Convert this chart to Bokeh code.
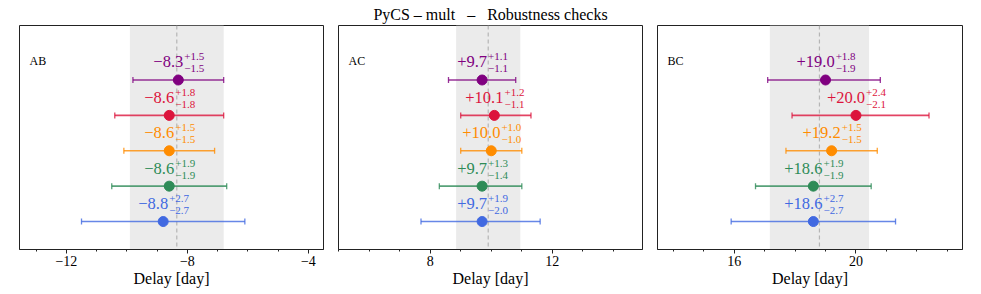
from bokeh.plotting import figure
from bokeh.layouts import row
from bokeh.models import (ColumnDataSource, Whisker, TeeHead, BoxAnnotation, Span,
                          Label, FixedTicker, Range1d)
from bokeh.core.properties import value
from bokeh.embed import file_html
from bokeh.resources import INLINE

# ---------------- data ----------------
pairs = ["AB", "AC", "BC"]
colors = ["#800080", "#DC143C", "#FF8C00", "#2E8B57", "#4169E1"]
rows_y = [4, 3, 2, 1, 0]

AB_val = [-8.3, -8.6, -8.6, -8.6, -8.8]
AB_up = [1.5, 1.8, 1.5, 1.9, 2.7]
AB_lo = [1.5, 1.8, 1.5, 1.9, 2.7]

AC_val = [9.7, 10.1, 10.0, 9.7, 9.7]
AC_up = [1.1, 1.2, 1.0, 1.3, 1.9]
AC_lo = [1.1, 1.1, 1.0, 1.4, 2.0]

BC_val = [19.0, 20.0, 19.2, 18.6, 18.6]
BC_up = [1.8, 2.4, 1.5, 1.9, 2.7]
BC_lo = [1.9, 2.1, 1.5, 1.9, 2.7]

band_center = [-8.35, 9.9, 18.8]
band_half = [1.55, 1.05, 1.63]

x_ranges = [(-13.55, -3.5), (5.0, 14.95), (13.48, 23.5)]
y_range = (-0.79, 5.54)

tick_values = [[-12, -8, -4], [8, 12], [16, 20]]
tick_labels = [["\u221212", "\u22128", "\u22124"], ["8", "12"], ["16", "20"]]
minor_values = [[-13, -11, -10, -9, -7, -6, -5],
                [5, 6, 7, 9, 10, 11, 13, 14],
                [14, 15, 17, 18, 19, 21, 22, 23]]

title_text = "PyCS \u2013 mult \u00a0 \u2013 \u00a0 Robustness checks"

FONT = "Liberation Serif"
MAIN_SIZE = 16.5
SCRIPT_SIZE = 11.0

# Times-like advance widths (em)
_W = {".": 0.25, "+": 0.564, "\u2212": 0.564}


def text_w(s, size):
    return sum(_W.get(ch, 0.5) for ch in s) * size


panel_data = [(AB_val, AB_up, AB_lo), (AC_val, AC_up, AC_lo), (BC_val, BC_up, BC_lo)]
borders = [(19, 7), (8, 7), (8, 10)]
frame_widths = [304, 304, 305]

figs = []
for k in range(3):
    vals, ups, los = panel_data[k]
    p = figure(frame_width=frame_widths[k], frame_height=224,
               x_range=Range1d(*x_ranges[k]), y_range=Range1d(*y_range),
               output_backend="svg", toolbar_location=None,
               min_border_left=borders[k][0], min_border_right=borders[k][1],
               min_border_top=0, min_border_bottom=0,
               title=title_text if k == 1 else "\u00a0")
    p.title.text_font = FONT
    p.title.text_font_size = "16px"
    p.title.text_font_style = "normal"
    p.title.align = "center"
    p.title.standoff = 6
    p.title.offset = 0
    p.title.text_color = "black"

    p.xgrid.visible = False
    p.ygrid.visible = False
    p.yaxis.visible = False
    p.outline_line_color = "#222222"
    p.outline_line_width = 1
    p.background_fill_color = "white"
    p.border_fill_color = "white"

    ax = p.xaxis[0]
    ax.ticker = FixedTicker(ticks=tick_values[k], minor_ticks=minor_values[k])
    ax.major_label_overrides = {t: l for t, l in zip(tick_values[k], tick_labels[k])}
    ax.major_label_text_font = FONT
    ax.major_label_text_font_size = "14px"
    ax.major_label_text_color = "black"
    ax.major_label_standoff = 2
    ax.major_tick_in = 0
    ax.major_tick_out = 4
    ax.minor_tick_in = 0
    ax.minor_tick_out = 2
    ax.axis_line_color = "#222222"
    ax.major_tick_line_color = "#222222"
    ax.minor_tick_line_color = "#222222"
    ax.axis_label = "Delay [day]"
    ax.axis_label_text_font = FONT
    ax.axis_label_text_font_size = "16px"
    ax.axis_label_text_font_style = "normal"
    ax.axis_label_text_color = "black"
    ax.axis_label_standoff = 1

    # shaded band + dashed centre
    p.add_layout(BoxAnnotation(left=band_center[k] - band_half[k],
                               right=band_center[k] + band_half[k],
                               fill_color="#ebebeb", fill_alpha=1.0,
                               line_alpha=0, level="underlay"))
    p.add_layout(Span(location=band_center[k], dimension="height",
                      line_color="#b5b5b5", line_dash="4 3", line_width=1.2,
                      level="underlay"))

    # error bars
    for i in range(5):
        src = ColumnDataSource(dict(y=[rows_y[i]], lo=[vals[i] - los[i]],
                                    hi=[vals[i] + ups[i]]))
        w = Whisker(source=src, base="y", lower="lo", upper="hi",
                    dimension="width", line_color=colors[i], line_width=1.6,
                    line_alpha=0.8,
                    lower_head=TeeHead(size=6, line_color=colors[i],
                                       line_width=1.3, line_alpha=0.8),
                    upper_head=TeeHead(size=6, line_color=colors[i],
                                       line_width=1.3, line_alpha=0.8))
        p.add_layout(w)

    # points
    p.scatter(x=vals, y=rows_y, size=10, color=colors, line_color=colors)

    # labels: main value + super/sub scripts, centred on point
    mains = [("+" if v >= 0 else "\u2212") + f"{abs(v):.1f}" for v in vals]
    sups = ["+" + f"{u:.1f}" for u in ups]
    subs = ["\u2212" + f"{l:.1f}" for l in los]
    offs = []
    for m, su, sb in zip(mains, sups, subs):
        wm = text_w(m, MAIN_SIZE)
        ws = max(text_w(su, SCRIPT_SIZE), text_w(sb, SCRIPT_SIZE))
        offs.append((wm - ws) / 2.0)
    src_t = ColumnDataSource(dict(x=vals, y=rows_y, main=mains, sup=sups, sub=subs,
                                  off=offs, offs=[o + 1 for o in offs], col=colors))
    p.text(x="x", y="y", text="main", source=src_t, x_offset="off", y_offset=-18,
           text_align="right", text_baseline="alphabetic", text_color="col",
           text_font=value(FONT), text_font_size=f"{MAIN_SIZE}px")
    p.text(x="x", y="y", text="sup", source=src_t, x_offset="offs", y_offset=-23,
           text_align="left", text_baseline="alphabetic", text_color="col",
           text_font=value(FONT), text_font_size=f"{SCRIPT_SIZE}px")
    p.text(x="x", y="y", text="sub", source=src_t, x_offset="offs", y_offset=-11,
           text_align="left", text_baseline="alphabetic", text_color="col",
           text_font=value(FONT), text_font_size=f"{SCRIPT_SIZE}px")

    # panel label
    x0, x1 = x_ranges[k]
    y0, y1 = y_range
    p.add_layout(Label(x=x0 + 0.033 * (x1 - x0), y=y0 + 0.84 * (y1 - y0),
                       text=pairs[k], text_font=FONT, text_font_size="12px",
                       text_color="black", text_baseline="alphabetic"))
    figs.append(p)

layout = row(*figs, spacing=0)
open("out.html", "w").write(file_html(layout, INLINE))
